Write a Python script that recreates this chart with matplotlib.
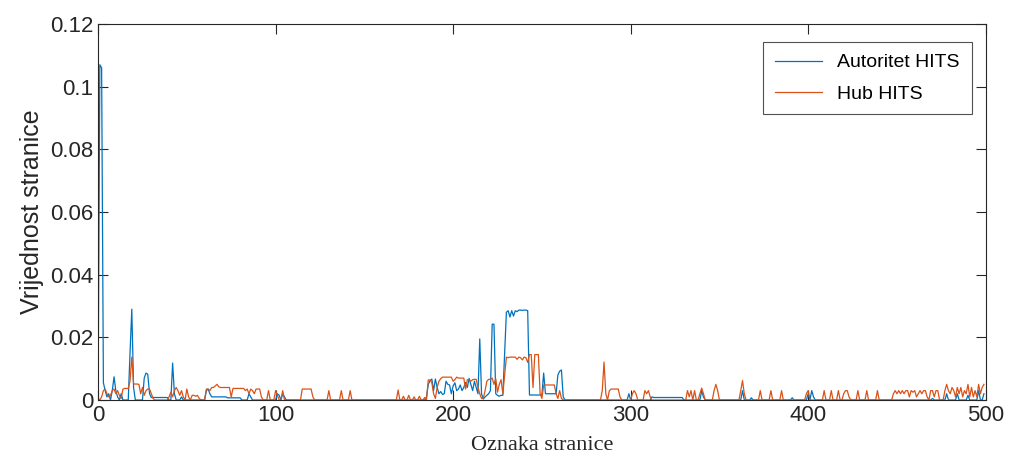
import matplotlib.pyplot as plt
import numpy as np

# page index 1..500 (unlisted pages ~0)
n_pages = 500

auth_idx = [1, 2, 3, 4, 5, 6, 8, 9, 10, 11, 13, 18, 19, 20, 26, 27, 28, 29,
            30, 31, 32, 33, 34, 35, 36, 37, 38, 39, 42, 43, 47,
            61, 62, 63, 64, 65, 66, 67, 68, 69, 70, 71, 72,
            73, 74, 75, 76, 77, 78, 79, 80, 85, 86, 101, 102, 104, 105,
            185, 186, 187, 188, 189, 190, 191, 192, 193, 194, 195, 196, 197,
            198, 199, 200, 201, 202, 203, 204, 205, 206, 207, 208, 209, 210,
            211, 212, 213, 214, 215, 216, 217, 218, 219, 220, 221, 222, 223,
            224, 225, 226, 227, 228, 229, 230, 231, 232, 233, 234, 235, 236,
            237, 238, 239, 240, 241, 242, 243, 244, 245, 246, 247, 248, 249,
            250, 251, 252, 253, 254, 255, 256, 257, 258, 259, 260, 261, 262,
            299, 312, 313, 314, 315, 316, 317, 318, 319, 320, 321, 322, 323,
            324, 325, 326, 327, 328, 329, 340, 341, 363, 368, 391, 400, 402,
            403, 470, 478, 484, 490, 496, 499]
auth_val = [0.107, 0.106, 0.0055, 0.003, 0.001, 0.002, 0.003, 0.0074, 0.003,
            0.001, 0.002, 0.015, 0.029, 0.004, 0.007, 0.0086, 0.0082, 0.002,
            0.0008, 0.0008, 0.0008, 0.0008, 0.0008, 0.0008, 0.0008, 0.0008,
            0.0008, 0.0008, 0.0118, 0.002, 0.001,
            0.003, 0.0035, 0.002, 0.001, 0.001, 0.001, 0.001, 0.001, 0.001,
            0.001, 0.001, 0.001, 0.0007, 0.0007, 0.0007, 0.0007, 0.0007,
            0.0007, 0.0007, 0.0007, 0.002, 0.001, 0.002, 0.0015, 0.002, 0.001,
            0.001, 0.005, 0.0062, 0.0067, 0.003, 0.0067, 0.004, 0.002, 0.0027,
            0.0018, 0.002, 0.006, 0.005, 0.0048, 0.002, 0.0045, 0.0055, 0.003,
            0.0035, 0.0048, 0.003, 0.004, 0.0056, 0.004, 0.0069, 0.005, 0.003,
            0.006, 0.004, 0.002, 0.0195, 0.002, 0.0003, 0.001, 0.0015, 0.002,
            0.003, 0.0242, 0.0242, 0.002, 0.0015, 0.0012, 0.0015, 0.0015,
            0.015, 0.028, 0.0285, 0.0265, 0.0285, 0.0268, 0.0285, 0.0282,
            0.0287, 0.0287, 0.0286, 0.0287, 0.0287, 0.0285, 0.0016, 0.0016,
            0.0016, 0.0016, 0.0016, 0.0016, 0.0016, 0.0016, 0.0086, 0.002,
            0.002, 0.002, 0.002, 0.002, 0.002, 0.002, 0.008, 0.0092, 0.0096,
            0.001, 0.002, 0.001, 0.0008, 0.0008, 0.0008, 0.0008, 0.0008,
            0.0008, 0.0008, 0.0008, 0.0008, 0.0008, 0.0008, 0.0008, 0.0008,
            0.0008, 0.0008, 0.0008, 0.0008, 0.003, 0.001, 0.003, 0.0007,
            0.0007, 0.002, 0.003, 0.001, 0.0005, 0.002, 0.002, 0.0015, 0.003,
            0.002]

hub_idx = [0, 2, 3, 4, 5, 6, 7, 8, 9, 10, 11, 12, 13, 14, 15, 16, 17, 18, 19,
           20, 21, 22, 23, 24, 25, 26, 27, 28, 29, 30, 31, 40, 41, 42, 43, 44,
           45, 46, 47, 48, 50, 51, 53, 54, 55, 56, 57, 61, 62, 63, 64, 65, 66,
           67, 68, 69, 70, 71, 72, 73, 74, 75, 76, 77, 78, 79, 80, 81, 82, 83,
           84, 85, 86, 87, 88, 89, 90, 91, 92, 96, 100, 101, 104, 115, 116,
           117, 118, 119, 120, 121, 130, 137, 142, 169, 172, 175, 178, 181,
           184, 186, 187, 188, 189, 190, 191, 192, 193, 194, 195, 196, 197,
           198, 199, 200, 201, 202, 203, 204, 205, 206, 207, 208, 209, 210,
           211, 212, 213, 214, 215, 216, 217, 218, 219, 220, 221, 222, 223,
           224, 225, 226, 227, 228, 229, 230, 231, 232, 233, 234, 235, 236,
           237, 238, 239, 240, 241, 242, 243, 244, 245, 246, 247, 248, 249,
           250, 251, 252, 253, 254, 255, 256, 257, 258, 259, 260, 261,
           284, 285, 286, 288, 289, 290, 291, 292, 293, 294, 301, 302, 303,
           308, 309, 310, 311, 332, 333, 334, 336, 339, 340, 341, 347, 348,
           349, 362, 363, 364, 373, 379, 385, 399, 400, 409, 413, 417, 420,
           421, 422, 423, 428, 433, 439, 448, 449, 450, 451, 452, 453, 454,
           455, 456, 457, 458, 459, 460, 461, 462, 463, 464, 465, 466, 467,
           469, 470, 471, 472, 473, 477, 478, 479, 480, 481, 482, 483, 484,
           485, 486, 487, 488, 489, 490, 491, 492, 493, 494, 495, 496, 497,
           498, 499]
hub_val = [0.0005, 0.001, 0.003, 0.0035, 0.002, 0.001, 0.0015, 0.003, 0.0035,
           0.002, 0.003, 0.0015, 0.0005, 0.0035, 0.0037, 0.0037, 0.0037, 0.006,
           0.0137, 0.0051, 0.0051, 0.0051, 0.005, 0.002, 0.004, 0.0015, 0.003,
           0.0035, 0.0035, 0.002, 0.0005, 0.001, 0.0025, 0.001, 0.003, 0.004,
           0.003, 0.0015, 0.003, 0.001, 0.0035, 0.001, 0.0015, 0.0015, 0.0012,
           0.0015, 0.0005, 0.0035, 0.0035, 0.003, 0.004, 0.004, 0.0045, 0.005,
           0.0042, 0.004, 0.004, 0.004, 0.004, 0.004, 0.004, 0.001, 0.0037,
           0.0037, 0.0037, 0.0037, 0.0037, 0.0037, 0.0037, 0.003, 0.0035,
           0.002, 0.0035, 0.003, 0.002, 0.0035, 0.0035, 0.0035, 0.001, 0.003,
           0.003, 0.0015, 0.003, 0.0035, 0.0035, 0.0035, 0.0035, 0.0035,
           0.0035, 0.001, 0.003, 0.003, 0.003, 0.0032, 0.0012, 0.0015, 0.001,
           0.0012, 0.0008, 0.0064, 0.0064, 0.0055, 0.002, 0.0005, 0.004,
           0.006, 0.0068, 0.0073, 0.0073, 0.0073, 0.0073, 0.0073, 0.0073,
           0.006, 0.0065, 0.0073, 0.007, 0.007, 0.007, 0.007, 0.0035, 0.0065,
           0.0065, 0.006, 0.0065, 0.0066, 0.0066, 0.004, 0.002, 0.0005,
           0.0005, 0.003, 0.006, 0.0066, 0.0066, 0.007, 0.005, 0.0068,
           0.0025, 0.005, 0.0065, 0.002, 0.008, 0.0137, 0.0135, 0.0137,
           0.0137, 0.0137, 0.0137, 0.013, 0.0137, 0.0135, 0.0128, 0.0137,
           0.0135, 0.012, 0.0145, 0.0145, 0.004, 0.0145, 0.0145, 0.0145,
           0.002, 0.0005, 0.0048, 0.0048, 0.0048, 0.0048, 0.0048, 0.0048,
           0.0048, 0.002, 0.0005, 0.003, 0.0005,
           0.003, 0.0121, 0.002, 0.003, 0.0035, 0.0035, 0.0035, 0.0035,
           0.0035, 0.001, 0.002, 0.003, 0.002, 0.003, 0.002, 0.003, 0.001,
           0.003, 0.001, 0.003, 0.003, 0.002, 0.0038, 0.002, 0.003, 0.005,
           0.003, 0.003, 0.0062, 0.002, 0.003, 0.003, 0.003, 0.002, 0.003,
           0.003, 0.003, 0.003, 0.002, 0.003, 0.003, 0.001, 0.003, 0.003,
           0.003, 0.002, 0.003, 0.002, 0.003, 0.002, 0.003, 0.002, 0.003,
           0.003, 0.001, 0.003, 0.0025, 0.003, 0.001, 0.002, 0.003, 0.002,
           0.003, 0.003, 0.001, 0.003, 0.003, 0.001, 0.003, 0.003, 0.003,
           0.005, 0.003, 0.002, 0.004, 0.003, 0.001, 0.004, 0.002, 0.004,
           0.001, 0.003, 0.002, 0.005, 0.001, 0.004, 0.001, 0.003, 0.001,
           0.005, 0.002, 0.004, 0.005]

authority = np.zeros(n_pages)
authority[auth_idx] = auth_val
hub = np.zeros(n_pages)
hub[hub_idx] = hub_val
pages = np.arange(n_pages)

plt.rcParams['font.family'] = ['Liberation Sans', 'DejaVu Sans']

fig = plt.figure(figsize=(10.11, 4.58), dpi=100)
ax = fig.add_axes([0.097, 0.1266, 0.878, 0.821])

ax.plot(pages, authority, color='#0072BD', lw=0.9, label='Autoritet HITS')
ax.plot(pages, hub, color='#D95319', lw=0.9, label='Hub HITS')

ax.set_xlim(0, 500)
ax.set_ylim(0, 0.12)
ax.set_xticks([0, 100, 200, 300, 400, 500])
ax.set_yticks([0, 0.02, 0.04, 0.06, 0.08, 0.1, 0.12])
ax.set_yticklabels(['0', '0.02', '0.04', '0.06', '0.08', '0.1', '0.12'])
ax.tick_params(direction='in', length=7, width=0.8, top=True, right=True,
               labelsize=16, colors='#262626')
for s in ax.spines.values():
    s.set_color('#262626')
    s.set_linewidth(0.8)

ax.set_ylabel('Vrijednost stranice', fontsize=18, color='#262626')
ax.set_xlabel('Oznaka stranice', fontsize=16, family='Liberation Serif',
              color='#262626', labelpad=7)

leg = ax.legend(loc='upper right', bbox_to_anchor=(0.984, 0.952),
                borderaxespad=0, fontsize=14, fancybox=False,
                handlelength=2.4, labelspacing=0.7, borderpad=0.6,
                frameon=True)
leg.get_frame().set_edgecolor('#262626')
leg.get_frame().set_linewidth(0.8)

fig.savefig('out.png', dpi=100)
